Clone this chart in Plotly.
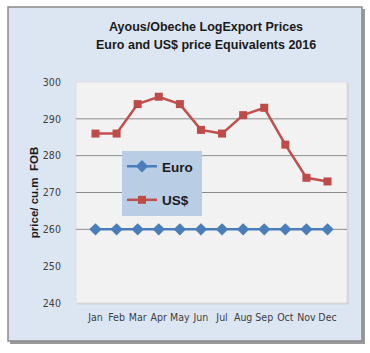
import plotly.graph_objects as go

months = ["Jan", "Feb", "Mar", "Apr", "May", "Jun", "Jul", "Aug", "Sep", "Oct", "Nov", "Dec"]
euro = [260, 260, 260, 260, 260, 260, 260, 260, 260, 260, 260, 260]
usd = [286, 286, 294, 296, 294, 287, 286, 291, 293, 283, 274, 273]
y_ticks = [240, 250, 260, 270, 280, 290, 300]
grid_vals = [260, 270, 280, 290]
title_lines = ["Ayous/Obeche LogExport Prices", "Euro and US$ price Equivalents 2016"]

W, H = 370, 353
L, R, T, B = 76, 23, 82, 50
pw, ph = W - L - R, H - T - B

def px_x(x):
    return (x - L) / pw

def px_y(y):
    return (H - B - y) / ph

fig = go.Figure()
fig.add_trace(go.Scatter(
    x=months, y=euro, name="Euro", mode="lines+markers", legendgroup="e",
    line=dict(color="#4a7ebb", width=2.5),
    marker=dict(symbol="diamond", size=9.5, color="#4a7ebb"),
))
fig.add_trace(go.Scatter(
    x=months, y=usd, name="US$", mode="lines+markers", legendgroup="u",
    line=dict(color="#c0504d", width=2.5),
    marker=dict(symbol="square", size=8, color="#be4b48"),
))

shapes = []
# shadow and outer frame
shapes.append(dict(type="rect", xref="paper", yref="paper",
                   x0=px_x(10), x1=px_x(365), y0=px_y(344), y1=px_y(9),
                   fillcolor="#9a9a9a", line=dict(width=0), layer="below"))
shapes.append(dict(type="rect", xref="paper", yref="paper",
                   x0=px_x(8), x1=px_x(362), y0=px_y(341), y1=px_y(7),
                   fillcolor="#dce6f2", line=dict(color="#8a8a8a", width=1.5), layer="below"))
# plot area shadow + bg
shapes.append(dict(type="rect", xref="paper", yref="paper",
                   x0=0.004, x1=1.006, y0=-0.007, y1=0.996,
                   fillcolor="#cfcfcf", line=dict(width=0), layer="below"))
shapes.append(dict(type="rect", xref="paper", yref="paper",
                   x0=0, x1=1, y0=0, y1=1,
                   fillcolor="#f2f2f2", line=dict(color="#dedede", width=1), layer="below"))
for g in grid_vals:
    shapes.append(dict(type="line", xref="paper", yref="y", x0=0, x1=1, y0=g, y1=g,
                       line=dict(color="#8c8c8c", width=1), layer="below"))

annotations = []
for i, t in enumerate(title_lines):
    annotations.append(dict(text="<b>%s</b>" % t, xref="paper", yref="paper",
                            x=px_x(206), y=px_y(27 + 18 * i), showarrow=False,
                            xanchor="center", yanchor="middle",
                            font=dict(family="Arial, Liberation Sans", size=12.5, color="#1a1a1a")))

tickfont = dict(family="Liberation Sans Narrow, DejaVu Sans Condensed, Arial", size=10.5, color="#404040")

fig.update_layout(
    width=W, height=H,
    margin=dict(l=L, r=R, t=T, b=B),
    paper_bgcolor="white",
    plot_bgcolor="rgba(0,0,0,0)",
    shapes=shapes,
    annotations=annotations,
    showlegend=True,
    legend=dict(x=px_x(122), y=px_y(151), xanchor="left", yanchor="top",
                bgcolor="#b9cde5", borderwidth=0, tracegroupgap=13,
                font=dict(family="Arial, Liberation Sans", size=13.5, color="#1a1a1a"),
                itemwidth=30),
    xaxis=dict(showgrid=False, zeroline=False, showline=False, tickfont=tickfont,
               ticks="outside", ticklen=4, tickcolor="rgba(0,0,0,0)"),
    yaxis=dict(range=[240, 300], tickvals=y_ticks, showgrid=False, zeroline=False,
               showline=False, tickfont=tickfont,
               ticks="outside", ticklen=12, tickcolor="rgba(0,0,0,0)",
               title=dict(text="<b>price/ cu.m  FOB</b>", standoff=1,
                          font=dict(family="Arial, Liberation Sans", size=11.5, color="#1a1a1a"))),
)
for tr in fig.data:
    tr.name = "<b>%s</b> " % tr.name

fig.write_html("out.html")
